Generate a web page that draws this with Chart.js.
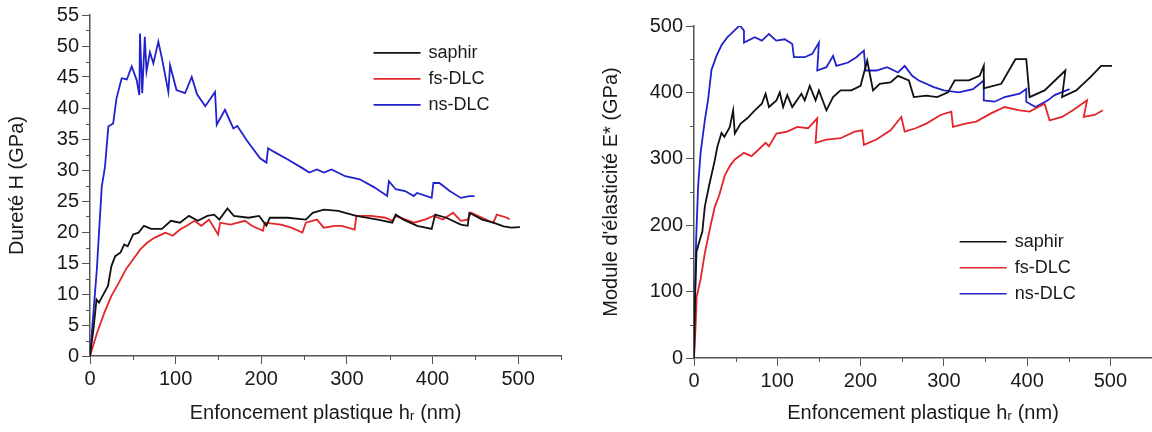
<!DOCTYPE html>
<html>
<head>
<meta charset="utf-8">
<script src="https://cdn.jsdelivr.net/npm/chart.js@4.4.1/dist/chart.umd.min.js"></script>
<style>
  html, body { margin: 0; padding: 0; background: #fff; }
  #wrap { position: relative; width: 1152px; height: 432px; overflow: hidden; }
  canvas { position: absolute; top: 0; }
</style>
</head>
<body>
<div id="wrap">
  <canvas id="hardness" width="576" height="432" style="left:0"></canvas>
  <canvas id="modulus" width="576" height="432" style="left:576px"></canvas>
</div>
<script>
const seriesNames = ['saphir', 'fs-DLC', 'ns-DLC'];
const seriesColors = ['#111111', '#e3262a', '#2222cc'];

// Dureté H (GPa) vs enfoncement plastique (nm)
const hSaphir = [
  [0, 0], [4, 4.3], [7.6, 9.1], [10.5, 8.6], [14.7, 9.7], [21, 11.3], [25, 14.5], [29.4, 16.1],
  [35.7, 16.7], [40, 18], [44, 17.7], [50.4, 19.6], [56.7, 19.9], [63, 21], [71.4, 20.5],
  [84, 20.5], [94.5, 21.8], [105, 21.5], [115.5, 22.6], [126, 21.8], [137, 22.6], [145, 22.8],
  [151, 22], [160.5, 23.8], [168, 22.6], [185, 22.3], [197.5, 22.6], [206, 21], [210, 22.3],
  [231, 22.3], [252, 22], [260, 23.1], [273, 23.6], [290, 23.4], [298, 23.1], [311, 22.6],
  [336, 22], [353, 21.5], [357, 22.8], [366, 22], [382, 21], [399, 20.5], [403, 22.8],
  [416, 22.3], [433, 21.2], [441, 21], [443, 23.1], [458, 22], [471, 21.5], [483, 20.9],
  [492, 20.7], [502, 20.8]
];
const hFsDlc = [
  [0, 0], [8.4, 3.8], [16.8, 7], [25, 9.7], [33.6, 11.8], [42, 14], [50.4, 15.6], [58.8, 17.2],
  [67, 18.3], [75.6, 19.1], [88, 19.9], [96.6, 19.4], [105, 20.4], [113, 21], [122, 21.8],
  [130, 21], [139, 22], [149.6, 19.6], [152, 21.5], [164, 21.2], [181, 21.8], [189, 21],
  [202, 20.2], [204, 21.5], [223, 21.2], [235, 20.7], [248, 19.9], [252, 21.5], [265, 22],
  [273, 20.7], [286, 21], [294, 21], [309, 20.4], [311, 22.6], [328, 22.6], [345, 22.3],
  [353, 21.8], [357, 22.6], [378, 21.5], [391, 22], [401, 22.6], [412, 22], [424, 23.1],
  [433, 21.8], [441, 22], [445, 23.1], [458, 22.3], [471, 21.5], [475, 22.8], [487, 22.3],
  [490, 22]
];
const hNsDlc = [
  [0, 0], [4, 7], [8, 14], [13.7, 27.3], [17.5, 30.5], [21.4, 37], [27, 37.5], [31, 41.6],
  [37, 44.8], [43, 44.6], [48.7, 46.7], [54.5, 44.5], [57.6, 42.1], [58.4, 52], [61, 42.4],
  [64, 51.5], [66, 45.9], [70, 49], [74, 47.2], [79.8, 50.7], [84, 48], [91.5, 42.6],
  [93.5, 46.9], [101, 42.9], [111, 42.4], [118.8, 45], [125, 42.2], [134.6, 40.3],
  [146, 42.6], [148, 37.3], [157.6, 39.7], [167.4, 36.7], [172, 37.1], [183, 34.8],
  [198.6, 31.9], [206, 31.2], [208, 33.5], [214, 33], [231, 31.7], [248, 30.3], [256, 29.6],
  [265, 30.1], [273, 29.6], [282, 30.1], [298, 29], [315, 28.5], [332, 27.2], [347, 25.8],
  [349, 28.2], [357, 26.9], [368, 26.6], [378, 25.8], [382, 26.3], [399, 25.5], [401, 27.9],
  [408, 27.9], [420, 26.6], [433, 25.5], [443, 25.8], [449, 25.8]
];

// Module d'élasticité E* (GPa) vs enfoncement plastique (nm)
const eSaphir = [
  [0, 0], [1.5, 100], [3, 160], [7, 178], [10, 190], [13, 228], [18, 259], [25, 298],
  [28, 318], [33, 339], [36.5, 333], [43, 348], [47, 373], [49, 338], [56, 353], [64, 361],
  [73, 373], [81.5, 383], [86, 398], [90, 378], [99, 388], [103, 400], [107, 378], [112, 396],
  [118, 378], [129, 398], [133, 388], [139, 410], [146, 388], [150, 403], [159, 373],
  [167, 393], [176, 403], [189, 403], [200, 410], [208, 448], [215, 403], [223, 413],
  [236, 415], [245, 425], [258, 418], [264, 393], [279, 395], [292, 393], [305, 400],
  [313, 418], [330, 418], [343, 425], [348, 440], [348, 406], [369, 413], [386, 450],
  [399, 450], [403, 393], [421, 403], [446, 433], [442, 393], [459, 403], [476, 423],
  [489, 440], [502, 440]
];
const eFsDlc = [
  [0, 0], [2, 50], [3.2, 92], [8, 119], [13, 158], [20, 200], [25, 228], [30, 244],
  [37, 275], [43, 289], [49, 299], [60, 309], [69, 304], [77.7, 314], [86, 324], [90, 319],
  [99, 338], [112, 341], [124, 348], [137, 346], [148, 361], [146, 324], [159, 329],
  [176, 331], [193, 341], [202, 343], [204, 321], [219, 329], [236, 343], [249, 363],
  [253, 341], [266, 346], [279, 353], [296, 366], [309, 371], [311, 348], [326, 353],
  [339, 356], [356, 368], [373, 378], [391, 373], [403, 371], [421, 383], [427, 358],
  [442, 363], [455, 373], [472, 388], [468, 363], [481, 366], [491, 373]
];
const eNsDlc = [
  [0, 0], [1.3, 100], [2.6, 180], [5, 260], [8, 310], [13, 358], [17, 390], [21, 434],
  [27, 455], [33, 471], [40, 483], [45, 489], [55, 501], [60, 493], [60, 475], [73, 483],
  [81.5, 478], [90, 488], [98.7, 478], [109, 480], [118, 473], [120, 453], [133, 453],
  [142, 458], [150, 475], [148, 433], [159, 438], [167, 455], [171, 440], [185, 445],
  [195, 453], [204, 463], [206, 433], [219, 433], [232, 438], [245, 430], [253, 440],
  [262, 425], [270, 418], [288, 408], [300, 403], [318, 400], [335, 405], [348, 418],
  [348, 388], [361, 386], [373, 393], [391, 398], [399, 405], [399, 386], [410, 378],
  [425, 388], [433, 396], [451, 405]
];

const FONT = "'Liberation Sans', Arial, 'DejaVu Sans', sans-serif";
const AXIS_COLOR = '#555';

// legend drawn inside the plot area (as in the original figure)
const insideLegend = {
  id: 'insideLegend',
  afterDraw(chart, args, opts) {
    const { ctx, chartArea } = chart;
    const x0 = chartArea.left + opts.fx * (chartArea.right - chartArea.left);
    const y0 = chartArea.top + opts.fy * (chartArea.bottom - chartArea.top);
    ctx.save();
    ctx.font = '18px ' + FONT;
    ctx.textBaseline = 'middle';
    chart.data.datasets.forEach((ds, i) => {
      const y = y0 + i * 26;
      ctx.strokeStyle = ds.borderColor;
      ctx.lineWidth = 1.6;
      ctx.beginPath();
      ctx.moveTo(x0, y);
      ctx.lineTo(x0 + 47, y);
      ctx.stroke();
      ctx.fillStyle = '#1a1a1a';
      ctx.fillText(ds.label, x0 + 55, y);
    });
    ctx.restore();
  }
};

// short minor ticks halfway between the labelled ones
const minorTicks = {
  id: 'minorTicks',
  afterDraw(chart, args, opts) {
    const { ctx, scales } = chart;
    ctx.save();
    ctx.strokeStyle = AXIS_COLOR;
    ctx.lineWidth = 1;
    ['x', 'y'].forEach(id => {
      const s = scales[id];
      const step = opts[id];
      for (let v = step / 2; v <= s.max; v += step) {
        const p = Math.round(s.getPixelForValue(v)) + 0.5;
        ctx.beginPath();
        if (id === 'x') {
          ctx.moveTo(p, s.top);
          ctx.lineTo(p, s.top + 4);
        } else {
          ctx.moveTo(s.right, p);
          ctx.lineTo(s.right - 4, p);
        }
        ctx.stroke();
      }
    });
    ctx.restore();
  }
};

function toPoints(pairs) {
  return pairs.map(p => ({ x: p[0], y: p[1] }));
}

function makeChart(id, series, cfg) {
  return new Chart(document.getElementById(id), {
    type: 'line',
    data: {
      datasets: series.map((s, i) => ({
        label: seriesNames[i],
        data: toPoints(s),
        borderColor: seriesColors[i],
        borderWidth: 1.8,
        pointRadius: 0,
        tension: 0,
        fill: false,
      })),
    },
    options: {
      responsive: false,
      animation: false,
      devicePixelRatio: 1,
      layout: { padding: { top: cfg.top, right: cfg.right, left: 0, bottom: 0 } },
      plugins: {
        legend: { display: false },
        tooltip: { enabled: false },
        insideLegend: cfg.legend,
        minorTicks: { x: 100, y: cfg.yStep },
      },
      scales: {
        x: {
          type: 'linear',
          min: 0,
          max: 550,
          afterFit: s => { s.height = cfg.xHeight; },
          ticks: {
            stepSize: 50,
            autoSkip: false,
            maxRotation: 0,
            padding: 3,
            color: '#1a1a1a',
            font: { family: FONT, size: 20 },
            // only every 100 nm gets a label and a long tick
            callback: v => (v % 100 === 0 ? v : null),
          },
          grid: { drawOnChartArea: false, tickLength: 8, color: AXIS_COLOR },
          border: { color: AXIS_COLOR, width: 1.5 },
          title: {
            display: true,
            text: 'Enfoncement plastique hᵣ (nm)',
            color: '#1a1a1a',
            font: { family: FONT, size: 20 },
            padding: { top: 0, bottom: 7 },
          },
        },
        y: {
          type: 'linear',
          min: 0,
          max: cfg.yMax,
          afterFit: s => { s.width = cfg.yWidth; },
          ticks: {
            stepSize: cfg.yStep,
            autoSkip: false,
            padding: 3,
            color: '#1a1a1a',
            font: { family: FONT, size: 20 },
          },
          grid: { drawOnChartArea: false, tickLength: 8, color: AXIS_COLOR },
          border: { color: AXIS_COLOR, width: 1.5 },
          title: {
            display: true,
            text: cfg.yTitle,
            color: '#1a1a1a',
            font: { family: FONT, size: 20 },
            padding: { top: cfg.yTitlePad, bottom: 0 },
          },
        },
      },
    },
    plugins: [insideLegend, minorTicks],
  });
}

makeChart('hardness', [hSaphir, hFsDlc, hNsDlc], {
  top: 15, right: 15, xHeight: 76, yWidth: 90,
  yMax: 55, yStep: 5,
  yTitle: 'Dureté H (GPa)', yTitlePad: 5,
  legend: { fx: 0.602, fy: 0.111 },
});

makeChart('modulus', [eSaphir, eFsDlc, eNsDlc], {
  top: 26, right: 0, xHeight: 74, yWidth: 118,
  yMax: 500, yStep: 100,
  yTitle: "Module d'élasticité E* (GPa)", yTitlePad: 23,
  legend: { fx: 0.58, fy: 0.65 },
});
</script>
</body>
</html>
